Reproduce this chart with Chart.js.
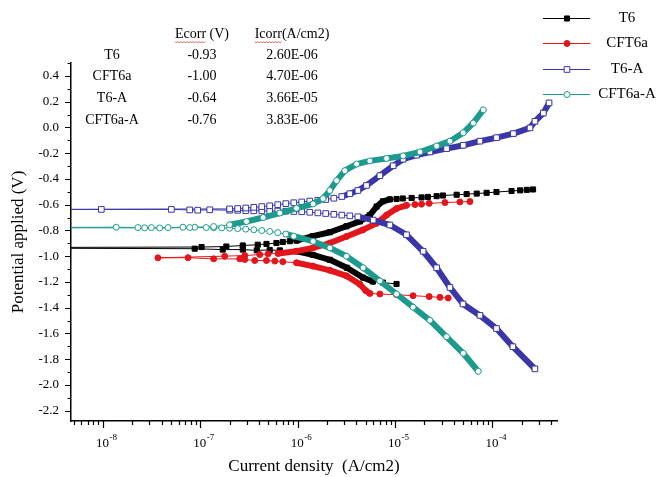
<!DOCTYPE html>
<html>
<head>
<meta charset="utf-8">
<script src="https://cdn.jsdelivr.net/npm/chart.js@4.4.1/dist/chart.umd.min.js"></script>
<style>
  html, body { margin: 0; padding: 0; background: #fff; }
  #wrap { width: 660px; height: 477px; }
</style>
</head>
<body>
<div id="wrap"><canvas id="chart" width="660" height="477"></canvas></div>
<script>
// ── Data ────────────────────────────────────────────────────────────────────
const seriesNames = ['T6', 'CFT6a', 'T6-A', 'CFT6a-A'];
const ecorrText   = ['-0.93', '-1.00', '-0.64', '-0.76'];
const icorrText   = ['2.60E-06', '4.70E-06', '3.66E-05', '3.83E-06'];
const xDecades    = [-8, -7, -6, -5, -4];
const yTicks      = [-2.2, -2.0, -1.8, -1.6, -1.4, -1.2, -1.0, -0.8, -0.6, -0.4, -0.2, 0.0, 0.2, 0.4];

// T6 (scan from cathodic end through Ecorr to anodic end)
const t6Current = [
  1.035e-5, 7.50e-6, 5.92e-6, 4.67e-6, 3.20e-6, 2.14e-6, 1.43e-6, 9.80e-7, 6.55e-7, 5.16e-7,
  3.80e-7, 2.73e-7, 1.70e-7, 8.76e-8, 1e-10,
  1.03e-7, 1.85e-7, 2.73e-7, 3.89e-7, 4.78e-7, 6.05e-7, 7.03e-7, 8.30e-7, 9.72e-7, 1.43e-6,
  2.14e-6, 3.17e-6, 4.35e-6, 5.51e-6, 6.46e-6, 7.50e-6, 8.84e-6, 1.035e-5, 1.20e-5, 1.48e-5,
  1.87e-5, 2.17e-5, 2.67e-5, 3.10e-5, 4.29e-5, 5.43e-5, 6.89e-5, 8.71e-5, 1.10e-4, 1.57e-4,
  1.92e-4, 2.25e-4, 2.61e-4
];
const t6Potential = [
  -1.216, -1.205, -1.197, -1.166, -1.090, -1.028, -0.990, -0.962, -0.955, -0.952,
  -0.955, -0.949, -0.949, -0.942, -0.935,
  -0.929, -0.925, -0.917, -0.911, -0.905, -0.898, -0.890, -0.884, -0.879, -0.844,
  -0.814, -0.768, -0.730, -0.681, -0.615, -0.574, -0.559, -0.556, -0.552, -0.548,
  -0.544, -0.540, -0.534, -0.529, -0.523, -0.518, -0.514, -0.508, -0.502, -0.494,
  -0.489, -0.485, -0.482
];

// CFT6a
const cft6aCurrent = [
  3.51e-5, 2.89e-5, 2.24e-5, 1.53e-5, 1.035e-5, 6.98e-6, 5.51e-6, 5.01e-6, 4.35e-6, 3.17e-6,
  2.14e-6, 1.43e-6, 9.72e-7, 7.03e-7, 5.82e-7, 4.78e-7, 3.62e-7, 2.86e-7, 2.54e-7, 1.37e-7,
  7.48e-8, 3.67e-8,
  1.78e-7, 2.86e-7, 4.08e-7, 4.97e-7, 6.29e-7, 9.72e-7, 1.43e-6, 2.14e-6, 3.17e-6, 4.67e-6,
  6.46e-6, 8.18e-6, 1.035e-5, 1.31e-5, 1.60e-5, 1.87e-5, 2.24e-5, 3.25e-5, 4.63e-5, 5.87e-5
];
const cft6aPotential = [
  -1.325, -1.320, -1.314, -1.307, -1.299, -1.294, -1.289, -1.268, -1.218, -1.153,
  -1.110, -1.077, -1.051, -1.043, -1.038, -1.034, -1.034, -1.026, -1.021, -1.021,
  -1.012, -1.013,
  -1.000, -0.995, -0.988, -0.982, -0.979, -0.962, -0.936, -0.898, -0.847, -0.796,
  -0.745, -0.681, -0.630, -0.605, -0.599, -0.596, -0.590, -0.584, -0.579, -0.576
];

// T6-A
const t6aCurrent = [
  2.73e-4, 1.62e-4, 1.10e-4, 7.44e-5, 4.98e-5, 3.66e-5, 2.67e-5, 1.94e-5, 1.31e-5, 8.84e-6,
  5.96e-6, 4.15e-6, 3.43e-6, 2.84e-6, 2.35e-6, 1.94e-6, 1.61e-6, 1.33e-6, 1.10e-6, 9.12e-7,
  7.55e-7, 6.24e-7, 5.16e-7, 4.28e-7, 3.54e-7, 2.93e-7, 2.42e-7, 2.00e-7, 1.25e-7, 9.40e-8,
  7.78e-8, 5.05e-8, 9.63e-9, 1e-10,
  2.00e-7, 2.42e-7, 2.93e-7, 3.54e-7, 4.28e-7, 5.16e-7, 6.24e-7, 7.55e-7, 9.12e-7, 1.10e-6,
  1.33e-6, 1.61e-6, 1.94e-6, 2.35e-6, 2.84e-6, 3.43e-6, 4.15e-6, 5.09e-6, 6.98e-6, 9.56e-6,
  1.21e-5, 1.66e-5, 2.28e-5, 3.38e-5, 5.01e-5, 7.44e-5, 1.10e-4, 1.64e-4, 2.43e-4, 2.73e-4,
  3.33e-4, 3.81e-4
];
const t6aPotential = [
  -1.875, -1.703, -1.562, -1.460, -1.371, -1.243, -1.090, -0.962, -0.834, -0.758,
  -0.720, -0.694, -0.687, -0.681, -0.675, -0.669, -0.664, -0.659, -0.655, -0.653,
  -0.651, -0.650, -0.649, -0.648, -0.648, -0.646, -0.644, -0.643, -0.640, -0.643,
  -0.641, -0.637, -0.637, -0.640,
  -0.633, -0.630, -0.626, -0.621, -0.615, -0.609, -0.600, -0.592, -0.585, -0.579,
  -0.572, -0.566, -0.560, -0.550, -0.537, -0.515, -0.490, -0.451, -0.375, -0.298,
  -0.247, -0.216, -0.191, -0.165, -0.139, -0.107, -0.080, -0.048, -0.004, 0.047,
  0.111, 0.190
];

// CFT6a-A
const cft6aACurrent = [
  7.14e-5, 5.01e-5, 3.38e-5, 2.28e-5, 1.53e-5, 1.035e-5, 6.98e-6, 4.70e-6, 3.17e-6, 2.14e-6,
  1.44e-6, 9.12e-7, 7.55e-7, 6.24e-7, 5.16e-7, 4.28e-7, 3.54e-7, 2.93e-7, 2.42e-7, 2.00e-7,
  1.66e-7, 1.37e-7, 1.15e-7, 8.76e-8, 6.64e-8, 4.66e-8, 3.14e-8, 2.29e-8, 1.37e-8, 1e-10,
  2.68e-8, 3.83e-8, 7.78e-8, 1.37e-7, 2.00e-7, 2.98e-7, 4.41e-7, 6.55e-7, 9.72e-7, 1.44e-6,
  1.82e-6, 2.14e-6, 2.51e-6, 3.05e-6, 4.02e-6, 5.51e-6, 8.18e-6, 1.21e-5, 1.80e-5, 2.67e-5,
  3.66e-5, 5.01e-5, 6.35e-5, 8.04e-5
];
const cft6aAPotential = [
  -1.894, -1.754, -1.626, -1.498, -1.396, -1.294, -1.192, -1.090, -1.000, -0.936,
  -0.885, -0.845, -0.828, -0.817, -0.808, -0.801, -0.795, -0.790, -0.786, -0.783,
  -0.780, -0.779, -0.778, -0.775, -0.775, -0.778, -0.778, -0.778, -0.775, -0.780,
  -0.780, -0.781, -0.778, -0.770, -0.756, -0.731, -0.700, -0.665, -0.628, -0.594,
  -0.553, -0.490, -0.413, -0.336, -0.285, -0.260, -0.241, -0.221, -0.191, -0.145,
  -0.107, -0.042, 0.034, 0.136
];

// ── Styling ─────────────────────────────────────────────────────────────────
const SERIF = '"Liberation Serif", "Times New Roman", serif';
const BLACK = '#000000';
const RED   = '#e3161b';
const BLUE  = '#3a36a8';
const TEAL  = '#1d9a8e';

// segments with a real potential step are where the original markers pile up
// into a solid band; nearly flat steps stay thin
const bandWidth = c => Math.abs(c.p1.y - c.p0.y) >= 1.9 ? 6 : 1;

function makeSet(label, cur, pot, color, style, filled, radius, order) {
  return {
    label,
    data: cur.map((x, i) => ({ x, y: pot[i] })),
    showLine: true,
    order,
    borderColor: color,
    borderWidth: 1,
    borderJoinStyle: 'round',
    borderCapStyle: 'round',
    pointStyle: style,
    pointRadius: radius,
    pointBorderWidth: 1,
    pointBorderColor: color,
    pointBackgroundColor: filled ? color : '#ffffff',
    segment: { borderWidth: bandWidth }
  };
}

const datasets = [
  makeSet(seriesNames[0], t6Current,     t6Potential,     BLACK, 'rect',   true,  3.6, 4),
  makeSet(seriesNames[1], cft6aCurrent,  cft6aPotential,  RED,   'circle', true,  3.0, 3),
  makeSet(seriesNames[2], t6aCurrent,    t6aPotential,    BLUE,  'rect',   false, 4.0, 2),
  makeSet(seriesNames[3], cft6aACurrent, cft6aAPotential, TEAL,  'circle', false, 3.0, 1)
];

// ── Extra drawing: tick marks, log labels, inset table, legend ─────────────
const decorations = {
  id: 'decorations',
  afterDraw(chart) {
    const { ctx, chartArea: area, scales: { x, y } } = chart;
    ctx.save();
    ctx.strokeStyle = '#000';
    ctx.lineWidth = 1.2;

    // x ticks (major at decades, minor 2..9)
    ctx.beginPath();
    for (let e = -9; e <= -3; e++) {
      for (let k = 1; k <= 9; k++) {
        const v = k * Math.pow(10, e);
        if (v < x.min || v > x.max) continue;
        const px = Math.round(x.getPixelForValue(v)) + 0.5;
        ctx.moveTo(px, area.bottom);
        ctx.lineTo(px, area.bottom + (k === 1 ? 7 : 4));
      }
    }
    // y ticks every 0.1, longer at labelled ones
    for (let k = -22; k <= 5; k++) {
      const v = k / 10;
      if (v < y.min || v > y.max) continue;
      const py = Math.round(y.getPixelForValue(v)) + 0.5;
      ctx.moveTo(area.left, py);
      ctx.lineTo(area.left - (k % 2 === 0 ? 6 : 3.5), py);
    }
    ctx.stroke();

    // x labels 10^n
    ctx.fillStyle = '#000';
    ctx.textBaseline = 'alphabetic';
    xDecades.forEach(e => {
      const px = x.getPixelForValue(Math.pow(10, e));
      ctx.font = '13px ' + SERIF;
      ctx.textAlign = 'left';
      ctx.fillText('10', px - 7, 447);
      const w = ctx.measureText('10').width;
      ctx.font = '9px ' + SERIF;
      ctx.fillText(String(e), px - 7 + w + 0.5, 440);
    });

    // inset table
    const cols = [112, 202, 292];
    const rows = [34, 55, 76, 98, 120];
    ctx.textAlign = 'center';
    ctx.textBaseline = 'middle';
    ctx.font = '14px ' + SERIF;
    ctx.fillText('Ecorr (V)', cols[1], rows[0]);
    ctx.fillText('Icorr(A/cm2)', cols[2], rows[0]);
    // spell-check squiggles under "Ecorr" and "Icorr"
    const squiggle = (x0, x1, yy) => {
      ctx.beginPath();
      ctx.strokeStyle = '#d23a3a';
      ctx.lineWidth = 0.8;
      for (let xx = x0, i = 0; xx <= x1; xx += 1.5, i++) {
        const yv = yy + (i % 2 ? 1 : -0.5);
        i === 0 ? ctx.moveTo(xx, yv) : ctx.lineTo(xx, yv);
      }
      ctx.stroke();
    };
    const ecW = ctx.measureText('Ecorr (V)').width;
    const ecLeft = cols[1] - ecW / 2;
    squiggle(ecLeft, ecLeft + ctx.measureText('Ecorr').width, rows[0] + 8);
    const icW = ctx.measureText('Icorr(A/cm2)').width;
    const icLeft = cols[2] - icW / 2;
    squiggle(icLeft, icLeft + ctx.measureText('Icorr').width, rows[0] + 8);

    ctx.fillStyle = '#000';
    seriesNames.forEach((n, i) => {
      ctx.fillText(n, cols[0], rows[i + 1]);
      ctx.fillText(ecorrText[i], cols[1], rows[i + 1]);
      ctx.fillText(icorrText[i], cols[2], rows[i + 1]);
    });

    // legend, outside the plot on the right
    const legendY = [18, 43, 69, 94];
    chart.data.datasets.forEach((ds, i) => {
      const yy = legendY[i] + 0.5;
      ctx.strokeStyle = ds.borderColor;
      ctx.lineWidth = 1;
      ctx.beginPath();
      ctx.moveTo(543, yy);
      ctx.lineTo(590, yy);
      ctx.stroke();
      ctx.lineWidth = 1;
      ctx.fillStyle = ds.pointBackgroundColor;
      ctx.strokeStyle = ds.pointBorderColor;
      Chart.helpers.drawPoint(ctx, { pointStyle: ds.pointStyle, radius: ds.pointRadius, borderWidth: 1, rotation: 0 }, 567, yy);
      ctx.fillStyle = '#000';
      ctx.font = '15px ' + SERIF;
      ctx.textAlign = 'center';
      ctx.textBaseline = 'middle';
      ctx.fillText(ds.label, 627, legendY[i]);
    });
    ctx.restore();
  }
};

new Chart(document.getElementById('chart'), {
  type: 'scatter',
  data: { datasets },
  options: {
    responsive: false,
    animation: false,
    devicePixelRatio: 1,
    layout: { padding: { left: 0, right: 103, top: 63, bottom: 0 } },
    plugins: { legend: { display: false }, tooltip: { enabled: false } },
    scales: {
      x: {
        type: 'logarithmic',
        min: 4.7e-9,
        max: 4.6e-4,
        grid: { display: false, drawTicks: false },
        border: { display: true, color: '#000', width: 1.5 },
        ticks: { display: false },
        title: {
          display: true, text: 'Current density  (A/cm2)', color: '#000',
          font: { family: SERIF, size: 17 }, padding: { top: 0, bottom: 0 }
        },
        afterFit: s => { s.height = 56; }
      },
      y: {
        min: -2.28,
        max: 0.5,
        grid: { display: false, drawTicks: false },
        border: { display: true, color: '#000', width: 1.5 },
        afterBuildTicks: s => { s.ticks = yTicks.map(v => ({ value: v })); },
        ticks: {
          autoSkip: false, padding: 12, color: '#000',
          font: { family: SERIF, size: 13 },
          callback: v => Number(v).toFixed(1)
        },
        title: {
          display: true, text: 'Potential applied (V)', color: '#000',
          font: { family: SERIF, size: 17 }, padding: { top: 8, bottom: 0 }
        },
        afterFit: s => { s.width = 71; }
      }
    }
  },
  plugins: [decorations]
});
</script>
</body>
</html>
